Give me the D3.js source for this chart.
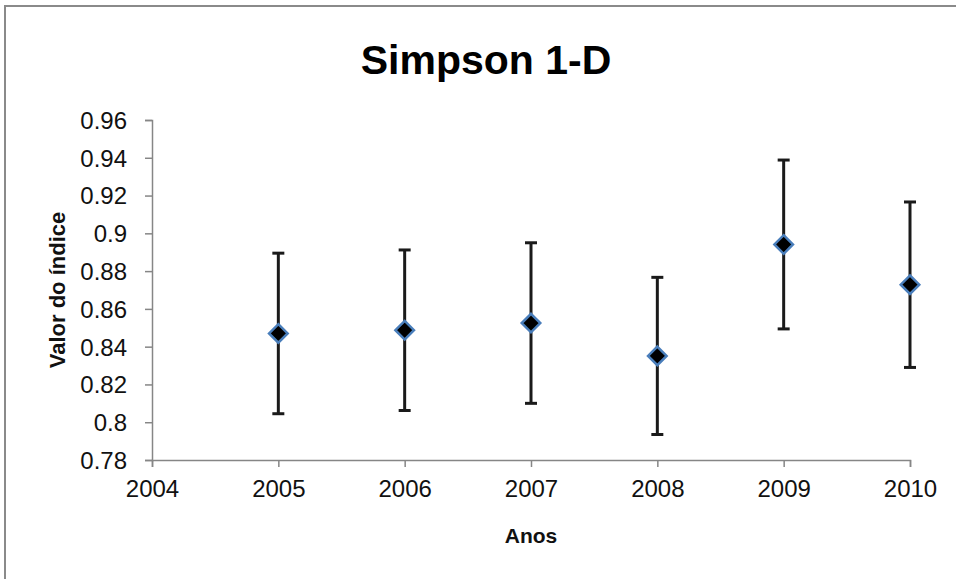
<!DOCTYPE html>
<html>
<head>
<meta charset="utf-8">
<script src="https://cdn.jsdelivr.net/npm/d3@7"></script>
<style>
  html, body { margin: 0; padding: 0; background: #fff; }
  svg { display: block; }
</style>
</head>
<body>
<svg id="chart" width="956" height="579"></svg>
<script>
// Simpson 1-D diversity index per year, with error bars
const years = [2005, 2006, 2007, 2008, 2009, 2010];
const means = [0.847, 0.8487, 0.8525, 0.8351, 0.8941, 0.8728];
const errors = [0.0425, 0.0425, 0.0425, 0.0416, 0.0447, 0.0438];

const xTicks = [2004, 2005, 2006, 2007, 2008, 2009, 2010];
const yTicks = [0.78, 0.80, 0.82, 0.84, 0.86, 0.88, 0.90, 0.92, 0.94, 0.96];

const titleText = "Simpson 1-D";
const xTitle = "Anos";
const yTitle = "Valor do índice";

const svg = d3.select("#chart");

const x = d3.scaleLinear().domain([2004, 2010]).range([152, 910]);
const y = d3.scaleLinear().domain([0.78, 0.96]).range([460, 120]);

// outer chart frame
svg.append("rect")
  .attr("x", 5).attr("y", 6)
  .attr("width", 1000).attr("height", 1000)
  .attr("fill", "none")
  .attr("stroke", "#8a8a8a")
  .attr("stroke-width", 2);

// title
svg.append("text")
  .attr("x", 486).attr("y", 74)
  .attr("text-anchor", "middle")
  .attr("font-family", "Liberation Sans, Arial, sans-serif")
  .attr("font-weight", "bold")
  .attr("font-size", 41)
  .attr("fill", "#000")
  .text(titleText);

const axisColor = "#868686";
const tickFont = "Liberation Sans, Arial, sans-serif";

// y axis
const yAxis = svg.append("g")
  .attr("transform", `translate(${x(2004)},0)`)
  .call(d3.axisLeft(y)
    .tickValues(yTicks)
    .tickSize(7)
    .tickPadding(18)
    .tickFormat(d => String(+d.toFixed(2))));

// x axis
const xAxis = svg.append("g")
  .attr("transform", `translate(0,${y(0.78)})`)
  .call(d3.axisBottom(x)
    .tickValues(xTicks)
    .tickSize(7)
    .tickPadding(13)
    .tickFormat(d3.format("d")));

[yAxis, xAxis].forEach(g => {
  g.select(".domain").attr("stroke", axisColor).attr("stroke-width", 1.5);
  g.selectAll(".tick line").attr("stroke", axisColor).attr("stroke-width", 1.5);
  g.selectAll(".tick text")
    .attr("font-family", tickFont)
    .attr("font-size", 24)
    .attr("fill", "#111");
});
yAxis.selectAll(".tick text").attr("dy", "0.35em");

// axis titles
svg.append("text")
  .attr("x", x(2007)).attr("y", 543)
  .attr("text-anchor", "middle")
  .attr("font-family", "Liberation Sans, Arial, sans-serif")
  .attr("font-weight", "bold")
  .attr("font-size", 21)
  .attr("fill", "#111")
  .text(xTitle);

svg.append("text")
  .attr("transform", `translate(65,${y(0.87)}) rotate(-90)`)
  .attr("text-anchor", "middle")
  .attr("font-family", "Liberation Sans, Arial, sans-serif")
  .attr("font-weight", "bold")
  .attr("font-size", 22)
  .attr("fill", "#111")
  .text(yTitle);

// soft edge for the markers
const defs = svg.append("defs");
defs.append("filter").attr("id", "soft")
  .append("feGaussianBlur").attr("stdDeviation", 0.6);

const pts = years.map((yr, i) => ({ yr, m: means[i], e: errors[i] }));

// error bars
const eb = svg.append("g").attr("stroke", "#1a1a1a").attr("stroke-width", 3);
pts.forEach(d => {
  const cx = x(d.yr);
  eb.append("line")
    .attr("x1", cx).attr("x2", cx)
    .attr("y1", y(d.m + d.e)).attr("y2", y(d.m - d.e));
  [d.m + d.e, d.m - d.e].forEach(v => {
    eb.append("line")
      .attr("x1", cx - 6).attr("x2", cx + 6)
      .attr("y1", y(v)).attr("y2", y(v));
  });
});

// diamond markers
const diamond = d3.symbol().type(d3.symbolDiamond2).size(220);
svg.append("g").selectAll("path")
  .data(pts)
  .join("path")
  .attr("d", diamond)
  .attr("transform", d => `translate(${x(d.yr)},${y(d.m)})`)
  .attr("fill", "#000")
  .attr("stroke", "#4a7ebb")
  .attr("stroke-width", 2.5)
  .attr("filter", "url(#soft)");
</script>
</body>
</html>
